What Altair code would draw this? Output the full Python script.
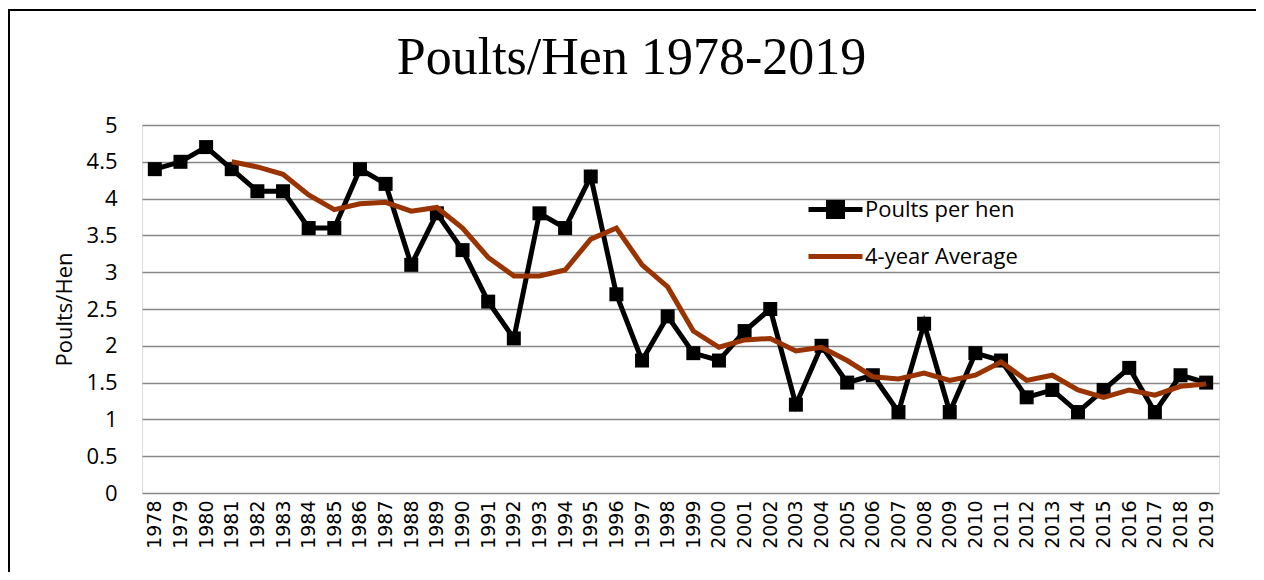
import altair as alt
import pandas as pd

years = [str(y) for y in range(1978, 2020)]
poults = [4.4, 4.5, 4.7, 4.4, 4.1, 4.1, 3.6, 3.6, 4.4, 4.2,
          3.1, 3.8, 3.3, 2.6, 2.1, 3.8, 3.6, 4.3, 2.7, 1.8,
          2.4, 1.9, 1.8, 2.2, 2.5, 1.2, 2.0, 1.5, 1.6, 1.1,
          2.3, 1.1, 1.9, 1.8, 1.3, 1.4, 1.1, 1.4, 1.7, 1.1,
          1.6, 1.5]
avg_years = [str(y) for y in range(1981, 2020)]
avg4 = [4.50, 4.43, 4.33, 4.05, 3.85, 3.93, 3.95, 3.83, 3.88, 3.60,
        3.20, 2.95, 2.95, 3.03, 3.45, 3.60, 3.10, 2.80, 2.20, 1.98,
        2.08, 2.10, 1.93, 1.98, 1.80, 1.58, 1.55, 1.63, 1.53, 1.60,
        1.78, 1.53, 1.60, 1.40, 1.30, 1.40, 1.33, 1.45, 1.48]

S1 = "Poults per hen"
S2 = "4-year Average"
series_names = [S1, S2]
series_colors = ["#000000", "#993300"]
legend_shapes = ["M-2.7,0H2.7M-0.7,-0.7H0.7V0.7H-0.7Z", "M-2.7,0H2.7"]

df = pd.concat([
    pd.DataFrame({"year": years, "value": poults, "series": S1}),
    pd.DataFrame({"year": avg_years, "value": avg4, "series": S2}),
], ignore_index=True)

LABEL_FONT = "Open Sans"

x = alt.X("year:O", title=None,
          scale=alt.Scale(type="point", padding=0.5, domain=years),
          axis=alt.Axis(labelAngle=-90, labelFont="DejaVu Sans", labelFontSize=19,
                        labelColor="black", domain=False, ticks=False, labelPadding=7))
y = alt.Y("value:Q", title="Poults/Hen",
          scale=alt.Scale(domain=[0, 5], nice=False),
          axis=alt.Axis(values=[i * 0.5 for i in range(11)], format=".1~f",
                        labelFont=LABEL_FONT, labelFontSize=22, labelColor="black",
                        grid=True, gridColor="#878787", gridWidth=1.5,
                        domain=False, ticks=False, labelPadding=25,
                        titleFont=LABEL_FONT, titleFontSize=22, titleFontWeight="normal",
                        titleColor="black", titlePadding=10))

leg = alt.Legend(title=None, orient="none", legendX=681, legendY=72,
                 labelFont=LABEL_FONT, labelFontSize=22, labelColor="black",
                 labelOffset=17, symbolSize=400, symbolStrokeWidth=5,
                 rowPadding=17, padding=0)

base = alt.Chart(df)

frame = alt.Chart(pd.DataFrame({"a": [0]})).mark_rect(
    filled=False, stroke="black", strokeWidth=2
).encode(x=alt.value(-133), x2=alt.value(1115), y=alt.value(-115), y2=alt.value(700))

line1 = base.transform_filter(alt.datum.series == S1).mark_line(
    strokeWidth=5, color=series_colors[0]).encode(x=x, y=y)
pts = base.transform_filter(alt.datum.series == S1).mark_point(
    shape="square", filled=True, size=196, color=series_colors[0], opacity=1).encode(x=x, y=y)
line2 = base.transform_filter(alt.datum.series == S2).mark_line(
    strokeWidth=5, color=series_colors[1]).encode(x=x, y=y)

legend_layer = base.transform_filter("false").mark_point(
    filled=True, size=400, opacity=1, strokeWidth=5
).encode(
    x=x, y=y,
    fill=alt.Fill("series:N", scale=alt.Scale(domain=series_names, range=series_colors), legend=leg),
    stroke=alt.Stroke("series:N", scale=alt.Scale(domain=series_names, range=series_colors), legend=leg),
    shape=alt.Shape("series:N", scale=alt.Scale(domain=series_names, range=legend_shapes), legend=leg),
)

chart = alt.layer(frame, line1, pts, line2, legend_layer).properties(
    width=1077, height=368,
    autosize=alt.AutoSizeParams(type="none"),
    padding={"left": 134, "top": 117, "right": 37, "bottom": 79},
    title=alt.Title("Poults/Hen 1978-2019", font="Liberation Serif", fontSize=52,
                    fontWeight="normal", color="black", anchor="middle",
                    baseline="alphabetic", frame="group", dx=-49, offset=-117),
).configure_view(
    fill="#d9d9d9", stroke="#222222", strokeWidth=1.5
).configure(background="white")

chart.save("out.html", embed_options={"renderer": "svg", "actions": False})
